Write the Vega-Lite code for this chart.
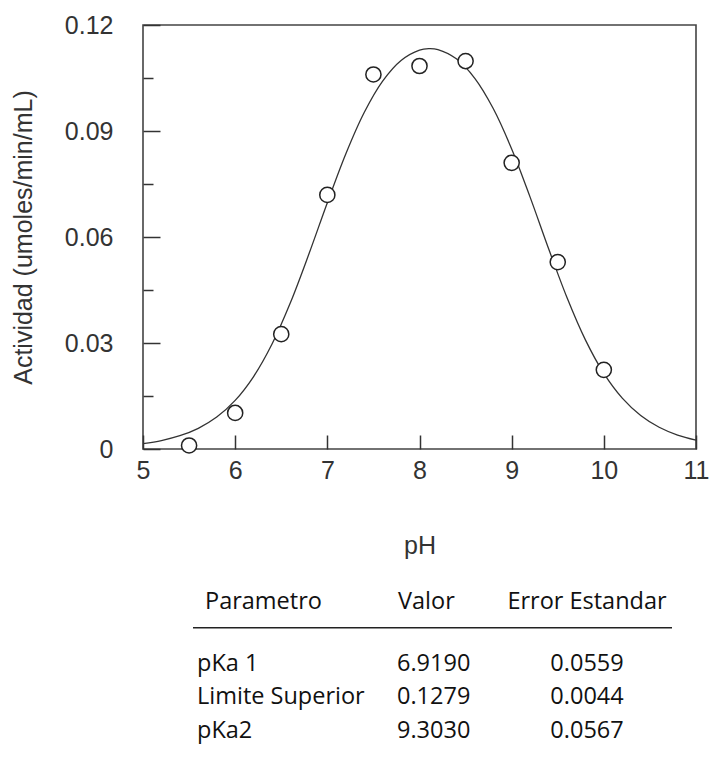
{
  "$schema": "https://vega.github.io/schema/vega-lite/v6.json",
  "background": "white",
  "padding": {"left": 10, "top": 12, "right": 0, "bottom": 5},
  "config": {
    "font": "Liberation Sans",
    "view": {"stroke": null},
    "axis": {
      "labelFont": "Liberation Sans",
      "titleFont": "Liberation Sans",
      "labelFontSize": 25,
      "titleFontSize": 25,
      "titleFontWeight": "normal",
      "labelColor": "#333",
      "titleColor": "#333",
      "grid": false,
      "domain": false,
      "tickColor": "#333",
      "tickWidth": 1.5
    }
  },
  "datasets": {
    "curva": [
      {"pH": 5.0, "Actividad": 0.001523}, {"pH": 5.2, "Actividad": 0.002397}, {"pH": 5.4, "Actividad": 0.003757},
      {"pH": 5.6, "Actividad": 0.005856}, {"pH": 5.8, "Actividad": 0.009039}, {"pH": 6.0, "Actividad": 0.013753},
      {"pH": 6.2, "Actividad": 0.020507}, {"pH": 6.4, "Actividad": 0.029709}, {"pH": 6.6, "Actividad": 0.041446},
      {"pH": 6.8, "Actividad": 0.055177}, {"pH": 7.0, "Actividad": 0.069704}, {"pH": 7.2, "Actividad": 0.083513},
      {"pH": 7.4, "Actividad": 0.095242}, {"pH": 7.6, "Actividad": 0.104136}, {"pH": 7.8, "Actividad": 0.109984},
      {"pH": 8.0, "Actividad": 0.112910}, {"pH": 8.1, "Actividad": 0.113328}, {"pH": 8.2, "Actividad": 0.113061},
      {"pH": 8.4, "Actividad": 0.110445},
      {"pH": 8.6, "Actividad": 0.104919}, {"pH": 8.8, "Actividad": 0.096365}, {"pH": 9.0, "Actividad": 0.084927},
      {"pH": 9.2, "Actividad": 0.071289}, {"pH": 9.4, "Actividad": 0.056754}, {"pH": 9.6, "Actividad": 0.042868},
      {"pH": 9.8, "Actividad": 0.030880}, {"pH": 10.0, "Actividad": 0.021395}, {"pH": 10.2, "Actividad": 0.014388},
      {"pH": 10.4, "Actividad": 0.009472}, {"pH": 10.6, "Actividad": 0.006145}, {"pH": 10.8, "Actividad": 0.003947},
      {"pH": 11.0, "Actividad": 0.002519}
    ],
    "medidas": [
      {"pH": 5.5, "Actividad": 0.001}, {"pH": 6.0, "Actividad": 0.0102}, {"pH": 6.5, "Actividad": 0.0325},
      {"pH": 7.0, "Actividad": 0.0719}, {"pH": 7.5, "Actividad": 0.106}, {"pH": 8.0, "Actividad": 0.1084},
      {"pH": 8.5, "Actividad": 0.1098}, {"pH": 9.0, "Actividad": 0.081}, {"pH": 9.5, "Actividad": 0.0529},
      {"pH": 10.0, "Actividad": 0.0224}
    ],
    "tabla": [
      {"fila": "Encabezado", "parametro": "Parametro", "valor": "Valor", "error": "Error Estandar"},
      {"fila": "pKa 1", "parametro": "pKa 1", "valor": "6.9190", "error": "0.0559"},
      {"fila": "Limite Superior", "parametro": "Limite Superior", "valor": "0.1279", "error": "0.0044"},
      {"fila": "pKa2", "parametro": "pKa2", "valor": "9.3030", "error": "0.0567"}
    ]
  },
  "bounds": "flush",
  "spacing": 131,
  "vconcat": [
    {
      "width": 553,
      "height": 424,
      "view": {"stroke": "#444", "strokeWidth": 1.6},
      "layer": [
        {
          "data": {"name": "curva"},
          "mark": {"type": "line", "color": "#333", "strokeWidth": 1.3, "interpolate": "catmull-rom"},
          "encoding": {
            "x": {
              "field": "pH", "type": "quantitative",
              "scale": {"domain": [5, 11], "nice": false, "zero": false},
              "axis": {"values": [5, 6, 7, 8, 9, 10, 11], "format": "d", "labelFlush": false, "tickSize": -14, "labelPadding": 23, "title": "pH", "titlePadding": 50}
            },
            "y": {
              "field": "Actividad", "type": "quantitative",
              "scale": {"domain": [0, 0.12], "nice": false},
              "axis": {
                "values": [0, 0.03, 0.06, 0.09, 0.12], "tickSize": -17, "labelPadding": 47, "labelFlush": false,
                "labelExpr": "datum.value === 0 ? '0' : format(datum.value, '.2f')",
                "title": "Actividad (umoles/min/mL)", "titlePadding": 28
              }
            }
          }
        },
        {
          "data": {"name": "medidas"},
          "mark": {"type": "circle", "fill": "white", "stroke": "#222", "strokeWidth": 1.5, "size": 230, "opacity": 1},
          "encoding": {
            "x": {"field": "pH", "type": "quantitative"},
            "y": {
              "field": "Actividad", "type": "quantitative",
              "axis": {"orient": "left", "values": [0.015, 0.045, 0.075, 0.105], "tickSize": -10, "labels": false, "title": null}
            }
          }
        }
      ],
      "resolve": {"axis": {"y": "independent"}}
    },
    {
      "width": 553,
      "height": 167.5,
      "data": {"name": "tabla"},
      "encoding": {
        "y": {
          "field": "fila", "type": "ordinal",
          "scale": {"domain": ["Encabezado", "Linea", "pKa 1", "Limite Superior", "pKa2"]},
          "axis": null
        }
      },
      "layer": [
        {
          "transform": [{"filter": "datum.fila !== 'Encabezado'"}],
          "mark": {"type": "text", "align": "left", "baseline": "middle", "font": "Open Sans", "fontSize": 23.5, "color": "#111"},
          "encoding": {
            "x": {"datum": 54, "type": "quantitative", "scale": {"domain": [0, 553], "nice": false, "zero": false}, "axis": null},
            "text": {"field": "parametro"}
          }
        },
        {
          "transform": [{"filter": "datum.fila === 'Encabezado'"}],
          "mark": {"type": "text", "align": "left", "baseline": "middle", "font": "Open Sans", "fontSize": 23.5, "color": "#111", "dy": 5},
          "encoding": {
            "x": {"datum": 62, "type": "quantitative"},
            "text": {"field": "parametro"}
          }
        },
        {
          "transform": [{"filter": "datum.fila !== 'Encabezado'"}],
          "mark": {"type": "text", "align": "left", "baseline": "middle", "font": "Open Sans", "fontSize": 23.5, "color": "#111"},
          "encoding": {
            "x": {"datum": 254, "type": "quantitative"},
            "text": {"field": "valor"}
          }
        },
        {
          "transform": [{"filter": "datum.fila === 'Encabezado'"}],
          "mark": {"type": "text", "align": "left", "baseline": "middle", "font": "Open Sans", "fontSize": 23.5, "color": "#111", "dy": 5},
          "encoding": {
            "x": {"datum": 255, "type": "quantitative"},
            "text": {"field": "valor"}
          }
        },
        {
          "transform": [{"filter": "datum.fila !== 'Encabezado'"}],
          "mark": {"type": "text", "align": "center", "baseline": "middle", "font": "Open Sans", "fontSize": 23.5, "color": "#111"},
          "encoding": {
            "x": {"datum": 444, "type": "quantitative"},
            "text": {"field": "error"}
          }
        },
        {
          "transform": [{"filter": "datum.fila === 'Encabezado'"}],
          "mark": {"type": "text", "align": "center", "baseline": "middle", "font": "Open Sans", "fontSize": 23.5, "color": "#111", "dy": 5},
          "encoding": {
            "x": {"datum": 444, "type": "quantitative"},
            "text": {"field": "error"}
          }
        },
        {
          "transform": [{"filter": "datum.fila === 'Encabezado'"}],
          "mark": {"type": "rule", "color": "#222", "strokeWidth": 1.5, "yOffset": -2.5},
          "encoding": {
            "x": {"datum": 50, "type": "quantitative"},
            "x2": {"datum": 529},
            "y": {"datum": "Linea", "type": "ordinal"}
          }
        }
      ]
    }
  ]
}
